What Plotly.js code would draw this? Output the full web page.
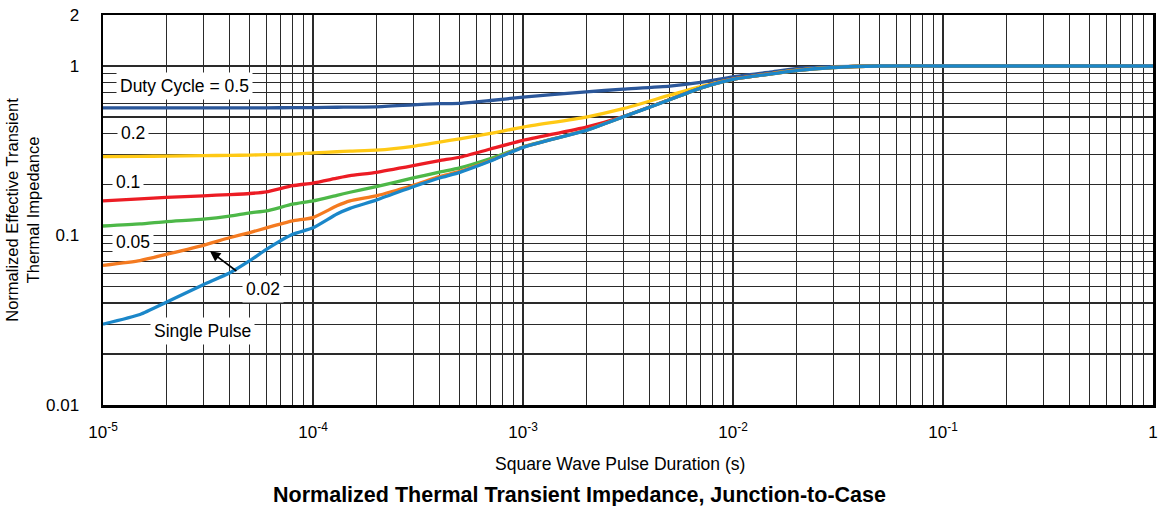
<!DOCTYPE html>
<html>
<head>
<meta charset="utf-8">
<script src="https://cdn.plot.ly/plotly-3.0.1.min.js"></script>
<style>html,body{margin:0;padding:0;background:#fff;}#chart{width:1159px;height:506px;}</style>
</head>
<body>
<div id="chart"></div>
<script>
// Pulse duration (s)
var pulseDuration = [1e-5, 1.5e-5, 2e-5, 3e-5, 4e-5, 5e-5, 6e-5, 8e-5, 1e-4, 1.3e-4, 1.5e-4, 2e-4, 3e-4, 4e-4, 5e-4, 7e-4, 1e-3, 2e-3, 3e-3, 5e-3, 7e-3, 1e-2, 1.5e-2, 2e-2, 3e-2, 5e-2, 0.1, 1];

// Normalized effective transient thermal impedance per duty cycle
var duty05 = [0.566, 0.566, 0.566, 0.566, 0.566, 0.567, 0.567, 0.568, 0.569, 0.571, 0.572, 0.574, 0.590, 0.600, 0.602, 0.626, 0.655, 0.704, 0.730, 0.761, 0.800, 0.864, 0.921, 0.966, 0.990, 1.0, 1.0, 1.0];
var duty02 = [0.292, 0.293, 0.294, 0.296, 0.297, 0.298, 0.300, 0.302, 0.307, 0.312, 0.315, 0.319, 0.336, 0.3555, 0.372, 0.400, 0.4365, 0.500, 0.560, 0.673, 0.7555, 0.838, 0.900, 0.944, 0.982, 1.0, 1.0, 1.0];
var duty01 = [0.160, 0.1646, 0.1677, 0.1715, 0.1744, 0.177, 0.181, 0.1967, 0.204, 0.218, 0.2255, 0.236, 0.2585, 0.2767, 0.2896, 0.324, 0.364, 0.436, 0.503, 0.635, 0.742, 0.836, 0.898, 0.942, 0.981, 1.0, 1.0, 1.0];
var duty005 = [0.1138, 0.117, 0.1208, 0.1248, 0.130, 0.136, 0.1397, 0.153, 0.160, 0.1727, 0.180, 0.194, 0.2185, 0.2366, 0.2505, 0.2845, 0.333, 0.418, 0.502, 0.634, 0.741, 0.835, 0.897, 0.941, 0.980, 1.0, 1.0, 1.0];
var duty002 = [0.0666, 0.0711, 0.0774, 0.0875, 0.097, 0.104, 0.111, 0.122, 0.1276, 0.1496, 0.160, 0.1715, 0.198, 0.2225, 0.239, 0.277, 0.332, 0.418, 0.502, 0.634, 0.741, 0.835, 0.897, 0.941, 0.980, 1.0, 1.0, 1.0];
var singlePulse = [0.030, 0.0342, 0.0404, 0.0513, 0.0601, 0.0711, 0.0828, 0.1016, 0.111, 0.134, 0.1446, 0.1618, 0.194, 0.2185, 0.236, 0.275, 0.331, 0.417, 0.501, 0.633, 0.740, 0.834, 0.896, 0.940, 0.980, 1.0, 1.0, 1.0];

var seriesNames = ['Duty Cycle = 0.5', '0.2', '0.1', '0.05', '0.02', 'Single Pulse'];
var seriesColors = ['#2b579a', '#ffc915', '#ec1c24', '#4db848', '#f47a20', '#1b87c9'];
var seriesValues = [duty05, duty02, duty01, duty005, duty002, singlePulse];

// Tick labels
var xMajorTicks = [1e-5, 1e-4, 1e-3, 1e-2, 1e-1, 1];
var xMajorText = ['10<sup>-5</sup>', '10<sup>-4</sup>', '10<sup>-3</sup>', '10<sup>-2</sup>', '10<sup>-1</sup>', '1'];
var yMajorTicks = [0.01, 0.1, 1, 2];
var yMajorText = ['0.01', '0.1', '1', '2'];

// Full grid: 1..9 per decade
var xTickVals = [], xTickText = [];
for (var d = -5; d <= -1; d++) {
  for (var m = 1; m <= 9; m++) {
    xTickVals.push(m * Math.pow(10, d));
    xTickText.push(m === 1 ? xMajorText[d + 5] : '');
  }
}
xTickVals.push(1); xTickText.push(xMajorText[5]);

var yTickVals = [], yTickText = [];
for (var e = -2; e <= -1; e++) {
  for (var k = 1; k <= 9; k++) {
    yTickVals.push(k * Math.pow(10, e));
    yTickText.push(k === 1 ? yMajorText[e + 2] : '');
  }
}
yTickVals.push(1); yTickText.push(yMajorText[2]);
yTickVals.push(2); yTickText.push(yMajorText[3]);

var traces = seriesValues.map(function (vals, i) {
  return {
    x: pulseDuration,
    y: vals,
    type: 'scatter',
    mode: 'lines',
    name: seriesNames[i],
    line: {color: seriesColors[i], width: 3.3, shape: 'spline', smoothing: 0.5},
    hoverinfo: 'x+y+name'
  };
});

var fontFam = '"Liberation Sans", Arial, Helvetica, sans-serif';
var labelFont = {family: fontFam, size: 17.5, color: '#000'};

var layout = {
  width: 1159,
  height: 506,
  margin: {l: 103, r: 6, t: 15, b: 101},
  paper_bgcolor: '#fff',
  plot_bgcolor: '#fff',
  showlegend: false,
  font: {family: fontFam, size: 17, color: '#000'},
  title: {
    text: '<b>Normalized Thermal Transient Impedance, Junction-to-Case</b>',
    font: {family: fontFam, size: 21.5, color: '#000'},
    xref: 'container', x: 0.5, xanchor: 'center',
    yref: 'container', y: 1 - 494 / 506, yanchor: 'middle'
  },
  xaxis: {
    type: 'log',
    range: [-5, 0],
    tickmode: 'array',
    tickvals: xTickVals,
    ticktext: xTickText,
    ticks: '',
    ticklabelstandoff: 10,
    tickfont: {family: fontFam, size: 17, color: '#000'},
    showgrid: true,
    gridcolor: '#2a2a2a',
    gridwidth: 1.1,
    showline: true,
    linecolor: '#000',
    linewidth: 2.5,
    mirror: true,
    zeroline: false
  },
  yaxis: {
    type: 'log',
    range: [-2, Math.log10(2)],
    tickmode: 'array',
    tickvals: yTickVals,
    ticktext: yTickText,
    ticks: '',
    ticklabelstandoff: 18,
    tickfont: {family: fontFam, size: 17, color: '#000'},
    showgrid: true,
    gridcolor: '#2a2a2a',
    gridwidth: 1.1,
    showline: true,
    linecolor: '#000',
    linewidth: 2.5,
    mirror: true,
    zeroline: false,
    title: {text: 'Normalized Effective Transient<br>Thermal Impedance', font: {family: fontFam, size: 16.5, color: '#000'}, standoff: 2}
  },
  annotations: [
    {xref: 'paper', yref: 'paper', x: (619.5 - 103) / 1050, y: -(464 - 405) / 390, text: 'Square Wave Pulse Duration (s)', showarrow: false, font: labelFont, xanchor: 'center', yanchor: 'middle'},
    {x: Math.log10(2.45e-5), y: Math.log10(0.761), text: 'Duty Cycle = 0.5', showarrow: false, bgcolor: '#fff', font: labelFont, borderpad: 3},
    {x: Math.log10(1.39e-5), y: Math.log10(0.400), text: '0.2', showarrow: false, bgcolor: '#fff', font: labelFont, borderpad: 3},
    {x: Math.log10(1.315e-5), y: Math.log10(0.2077), text: '0.1', showarrow: false, bgcolor: '#fff', font: labelFont, borderpad: 3},
    {x: Math.log10(1.39e-5), y: Math.log10(0.0915), text: '0.05', showarrow: false, bgcolor: '#fff', font: labelFont, borderpad: 3},
    {x: Math.log10(5.76e-5), y: Math.log10(0.0481), text: '0.02', showarrow: false, bgcolor: '#fff', font: labelFont, borderpad: 3},
    {x: Math.log10(3.23e-5), y: Math.log10(0.0809), text: '', showarrow: true, ax: 28, ay: 21, arrowhead: 2, arrowsize: 1.3, arrowwidth: 1.6, arrowcolor: '#000', standoff: 0},
    {x: Math.log10(2.99e-5), y: Math.log10(0.0275), text: 'Single Pulse', showarrow: false, bgcolor: '#fff', font: labelFont, borderpad: 3}
  ]
};

Plotly.newPlot('chart', traces, layout, {displayModeBar: false, staticPlot: true});
</script>
</body>
</html>
